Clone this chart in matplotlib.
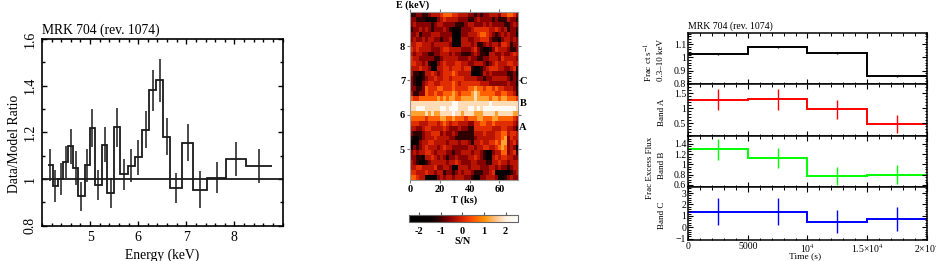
#!/usr/bin/env python3
import numpy as np
import matplotlib
matplotlib.use("Agg")
import matplotlib.pyplot as plt
from matplotlib.colors import LinearSegmentedColormap
from matplotlib.ticker import MultipleLocator, FixedLocator

plt.rcParams["font.family"] = ["Liberation Serif", "DejaVu Serif"]
plt.rcParams["mathtext.fontset"] = "stix"

W, H = 937, 261

# spectrum ratio
edges = [4.12, 4.23, 4.33, 4.44, 4.54, 4.65, 4.75, 4.89, 4.99, 5.10, 5.24, 5.36, 5.50,
         5.63, 5.79, 5.93, 6.08, 6.23, 6.38, 6.51, 6.67, 6.92, 7.13, 7.44, 7.82, 8.24, 8.79]
ratio = [1.06, 0.97, 1.00, 1.073, 1.14, 1.047, 0.926, 1.059, 1.217, 0.974, 1.147, 0.94, 1.221,
         1.02, 1.057, 1.093, 1.211, 1.38, 1.423, 1.181, 0.961, 1.156, 0.954, 1.006, 1.087, 1.057]
ratio_err = [0.07, 0.067, 0.068, 0.07, 0.076, 0.071, 0.063, 0.071, 0.081, 0.066, 0.075, 0.063, 0.082,
             0.066, 0.071, 0.074, 0.079, 0.089, 0.092, 0.08, 0.064, 0.079, 0.08, 0.066, 0.072, 0.072]

# S/N map, level per cell (0 black ... 9 white), top row first
sn_scale = [-2.2, -1.6, -1.1, -0.6, -0.25, 0.1, 0.6, 1.2, 1.8, 2.4]
sn_rows = [
    "223322 344456 665544 433232 334443 556653",
    "332221 100345 444433 322343 333232 224332",
    "343333 323443 333222 344333 434333 322343",
    "233434 323334 321113 334555 554454 342332",
    "334233 344433 331003 344456 654323 434331",
    "343343 443323 341004 433445 553221 344343",
    "445544 434444 431114 443422 343443 554233",
    "545444 433345 544443 334532 112354 443223",
    "434433 223344 434332 223432 214433 433454",
    "544333 332234 444433 343322 334443 544443",
    "554434 211345 444554 433444 323454 445544",
    "444544 311445 545554 552112 345554 433452",
    "422124 454345 556544 441112 434333 332231",
    "321123 445445 545555 444433 233444 443232",
    "321134 554455 556545 555554 443333 334331",
    "332236 555665 556555 566766 566565 544432",
    "422336 556556 667656 667876 666655 665542",
    "655666 666767 677667 777877 776776 776665",
    "888888 888888 889988 888888 889888 888888",
    "889998 888899 899988 899898 999999 999998",
    "777778 787788 889887 888777 888878 888877",
    "666665 666677 667666 566677 666776 666654",
    "555444 555456 545544 433556 655655 555543",
    "443345 544445 433343 322555 555444 554432",
    "322234 455534 334322 222444 544455 664554",
    "211234 445444 433222 222344 444455 673544",
    "111344 554444 344434 432445 445565 773453",
    "032345 444345 443333 344344 554456 763430",
    "343445 543444 332334 443443 211344 663452",
    "332214 454343 233433 344543 211454 554433",
    "432112 344444 344543 334433 322445 443444",
    "445544 445334 431144 434443 334434 332344",
    "554445 443442 332343 443222 334511 001234",
    "665441 001343 443444 332113 344431 123433",
]
sn_levels = [[int(c) for c in r.replace(" ", "")] for r in sn_rows]

# light curves
t_edges = [0, 5000, 10000, 15000, 20000]
total_rate = [1.025, 1.078, 1.033, 0.859]
total_err = [0.01, 0.01, 0.01, 0.01]
band_a = [1.278, 1.29, 0.967, 0.478]
band_a_err = [0.35, 0.34, 0.32, 0.30]
band_b = [1.29, 1.123, 0.774, 0.80]
band_b_err = [0.20, 0.19, 0.18, 0.18]
band_c = [1.345, 1.345, 0.50, 0.70]
band_c_err = [1.18, 1.18, 1.02, 1.07]


def px_axes(fig, left, top, right, bottom):
    return fig.add_axes([left / W, 1 - bottom / H, (right - left) / W, (bottom - top) / H])


def px_text(fig, x, y, s, **kw):
    fig.text(x / W, 1 - y / H, s, ha="center", va="center", **kw)


def steps(ax, edges, vals, errs, color, lw, elw):
    edges = np.asarray(edges, float)
    ax.stairs(vals, edges, color=color, lw=lw, baseline=None)
    mid = (edges[:-1] + edges[1:]) / 2
    ax.errorbar(mid, vals, yerr=errs, fmt="none", ecolor=color, elinewidth=elw, capsize=0)


fig = plt.figure(figsize=(W / 100, H / 100), dpi=100)

# left panel
ax = px_axes(fig, 42, 39, 282.5, 225.7)
steps(ax, edges, ratio, ratio_err, "#1a1a1a", 1.3, 1.1)
ax.axhline(1, color="#1a1a1a", lw=1.3)
ax.set_xlim(4, 9)
ax.set_ylim(0.8, 1.6)
ax.set_xticks([5, 6, 7, 8])
ax.xaxis.set_minor_locator(MultipleLocator(0.2))
ax.set_yticks([0.8, 1, 1.2, 1.4, 1.6], ["0.8", "1", "1.2", "1.4", "1.6"])
ax.yaxis.set_minor_locator(MultipleLocator(0.1))
ax.tick_params(which="major", direction="in", top=True, right=True, length=3.5, width=1, labelsize=10, pad=4)
ax.tick_params(which="minor", direction="in", top=True, right=True, length=2, width=1)
for lab in ax.get_yticklabels():
    lab.set_rotation(90)
    lab.set_va("center")
for s in ax.spines.values():
    s.set_linewidth(1.2)
ax.set_xlabel("Energy (keV)", fontsize=9.8, labelpad=3)
px_text(fig, 15, 144, "Data/Model Ratio", fontsize=9.8, rotation=90)
ax.set_title("MRK 704 (rev. 1074)", fontsize=9.8, loc="left", pad=4)

# middle panel
hot = LinearSegmentedColormap.from_list("sn", [
    (0.0, "#000000"), (0.2, "#0a0000"), (0.27, "#300000"), (0.37, "#8b0000"), (0.48, "#d42000"),
    (0.58, "#ff5000"), (0.69, "#ff9000"), (0.79, "#ffc080"), (0.89, "#fff0e0"), (1.0, "#ffffff")])
sn_vals = np.array(sn_scale)[np.array(sn_levels)]
ax = px_axes(fig, 410, 12, 518, 180)
im = ax.imshow(sn_vals, extent=[0, 72.5, 4.1, 8.99], origin="upper", aspect="auto",
               cmap=hot, vmin=-2.45, vmax=2.57, interpolation="nearest")
ax.set_xticks([0, 20, 40, 60])
ax.set_yticks([5, 6, 7, 8])
ax.tick_params(direction="out", top=True, right=True, length=2.5, width=0.8, color="#777777", labelsize=7.5, pad=1)
for lab in ax.get_xticklabels() + ax.get_yticklabels():
    lab.set_fontweight("bold")
for s in ax.spines.values():
    s.set_color("#999999")
    s.set_linewidth(0.8)
px_text(fig, 464, 200, "T (ks)", fontsize=7.5, fontweight="bold")
px_text(fig, 413, 5, "E (keV)", fontsize=7.2, fontweight="bold")
for name, yy in [("C", 81.5), ("B", 103), ("A", 127)]:
    px_text(fig, 523, yy, name, fontsize=7.5, fontweight="bold")

cax = px_axes(fig, 409.5, 215, 518, 222)
cb = fig.colorbar(im, cax=cax, orientation="horizontal")
cb.set_ticks([-2, -1, 0, 1, 2], labels=["-2", "-1", "0", "1", "2"])
cax.tick_params(direction="out", top=True, bottom=False, length=2.5, width=0.8, color="#555555",
                labelsize=7.5, pad=1, labelbottom=True)
for lab in cax.get_xticklabels():
    lab.set_fontweight("bold")
cb.outline.set_edgecolor("#666666")
cb.outline.set_linewidth(0.8)
px_text(fig, 463, 242, "S/N", fontsize=7.5, fontweight="bold")

# right panels
panels = [
    (32.7, 83.7, total_rate, total_err, "black", (0.8, 1.187), [0.8, 0.9, 1, 1.1], ["0.8", "0.9", "1", "1.1"], 0.02),
    (83.7, 135.7, band_a, band_a_err, "#ff0000", (0.09, 1.81), [0.5, 1, 1.5], ["0.5", "1", "1.5"], 0.1),
    (135.7, 187.3, band_b, band_b_err, "#00ff00", (0.555, 1.555), [0.6, 0.8, 1, 1.2, 1.4], ["0.6", "0.8", "1", "1.2", "1.4"], 0.05),
    (187.3, 239.7, band_c, band_c_err, "#0000ff", (-1.09, 3.5), [-1, 0, 1, 2, 3], ["\u22121", "0", "1", "2", "3"], 0.2),
]
for i, (top, bot, vals, errs, col, ylim, yt, ytl, minor) in enumerate(panels):
    ax = px_axes(fig, 688.3, top, 926.7, bot)
    steps(ax, t_edges, vals, errs, col, 1.4, 1.0)
    ax.set_xlim(0, 20000)
    ax.set_ylim(*ylim)
    ax.set_yticks(yt, ytl)
    ax.yaxis.set_minor_locator(MultipleLocator(minor))
    ax.xaxis.set_major_locator(FixedLocator([0, 5000, 10000, 15000, 20000]))
    ax.xaxis.set_minor_locator(MultipleLocator(1000))
    ax.tick_params(which="major", direction="in", top=True, right=True, length=3.5, width=0.8, labelsize=7, pad=1.5)
    ax.tick_params(which="minor", direction="in", top=True, right=True, length=1.8, width=0.7)
    for s in ax.spines.values():
        s.set_linewidth(1.1)
    if i == 0:
        ax.set_title("MRK 704 (rev. 1074)", fontsize=7, loc="left", pad=2.5)
    if i == 3:
        ax.set_xticklabels(["0", "5000", "10$^{4}$", "1.5\u00d710$^{4}$", "2\u00d710$^{4}$"])
    else:
        ax.tick_params(labelbottom=False)

px_text(fig, 649, 62, "Frac ct s$^{-1}$", fontsize=6.5, rotation=90)
px_text(fig, 661, 60, "0.3\u201310 keV", fontsize=6.5, rotation=90)
px_text(fig, 662, 112, "Band A", fontsize=6.5, rotation=90)
px_text(fig, 650, 168, "Frac Excess Flux", fontsize=6.5, rotation=90)
px_text(fig, 662, 165, "Band B", fontsize=6.5, rotation=90)
px_text(fig, 662, 215, "Band C", fontsize=6.5, rotation=90)
px_text(fig, 805, 256.5, "Time (s)", fontsize=6.8)

fig.savefig("out.png", dpi=100)
